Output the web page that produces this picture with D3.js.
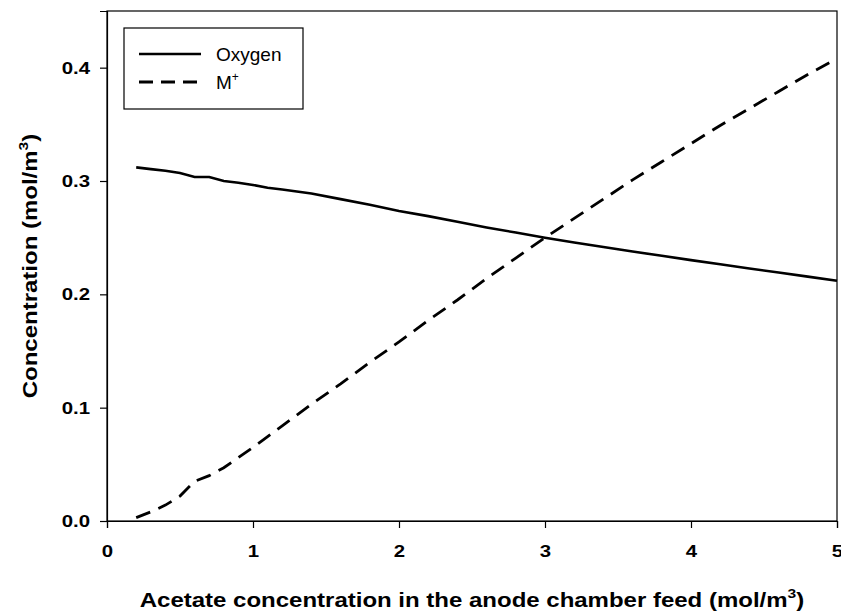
<!DOCTYPE html>
<html><head><meta charset="utf-8">
<script src="https://cdn.jsdelivr.net/npm/d3@7"></script>
<style>body{margin:0;background:#fff}svg{display:block}text{font-family:Arial,"Liberation Sans",sans-serif}</style>
</head><body><svg id="c" width="841" height="614"></svg>
<script>
const xValues = [0.2,0.3,0.4,0.5,0.6,0.7,0.8,0.9,1.0,1.1,1.2,1.4,1.6,1.8,2.0,2.2,2.4,2.6,2.8,3.0,3.2,3.4,3.6,3.8,4.0,4.2,4.4,4.6,4.8,5.0];
const oxygen = [0.312,0.3105,0.309,0.307,0.3035,0.3035,0.300,0.2985,0.2965,0.294,0.2925,0.289,0.284,0.279,0.2735,0.269,0.264,0.259,0.2545,0.250,0.2458,0.2418,0.2378,0.234,0.2302,0.2265,0.2228,0.2192,0.2156,0.212];
const mPlus = [0.003,0.008,0.014,0.022,0.035,0.040,0.047,0.056,0.065,0.0745,0.084,0.103,0.121,0.140,0.158,0.177,0.195,0.214,0.232,0.250,0.267,0.284,0.301,0.317,0.333,0.349,0.364,0.379,0.394,0.408];
const xTicks = [0,1,2,3,4,5];
const yTicks = [0.0,0.1,0.2,0.3,0.4];
const seriesNames = ["Oxygen","M"];

const SX = 1.2; // horizontal stretch of bold text in the reference
const svg = d3.select("#c");
const L=107, T=11, R=837, B=521;
const x = d3.scaleLinear().domain([0,5]).range([L,R]);
const y = d3.scaleLinear().domain([0,0.45]).range([B,T]);

svg.append("rect").attr("x",L).attr("y",T).attr("width",R-L).attr("height",B-T)
  .attr("fill","none").attr("stroke","#000").attr("stroke-width",1.2);

const xa = svg.append("g").attr("transform",`translate(0,${B})`)
  .call(d3.axisBottom(x).tickValues(xTicks).tickFormat(d3.format("d")).tickSizeOuter(0).tickSize(7).tickPadding(17));
const ya = svg.append("g").attr("transform",`translate(${L},0)`)
  .call(d3.axisLeft(y).tickValues(yTicks).tickFormat(d3.format(".1f")).tickSizeOuter(0).tickSize(7).tickPadding(10));
[xa,ya].forEach(a=>{
  a.select(".domain").attr("stroke","#000").attr("stroke-width",1.2);
  a.selectAll(".tick line").attr("stroke","#000").attr("stroke-width",1.2);
  a.selectAll(".tick text").attr("font-size",17).attr("font-weight","bold").attr("fill","#000")
   .attr("font-family","Arial, 'Liberation Sans', sans-serif");
});
xa.selectAll(".tick text").attr("transform",`scale(${SX},1)`);
ya.selectAll(".tick text").attr("x",-17/SX).attr("transform",`scale(${SX},1)`);

const line = d3.line().x(d=>x(d[0])).y(d=>y(d[1]));
svg.append("path").datum(xValues.map((v,i)=>[v,oxygen[i]])).attr("d",line)
  .attr("fill","none").attr("stroke","#000").attr("stroke-width",2.6);
svg.append("path").datum(xValues.map((v,i)=>[v,mPlus[i]])).attr("d",line)
  .attr("fill","none").attr("stroke","#000").attr("stroke-width",2.8).attr("stroke-dasharray","15,9");

// legend
const lg = svg.append("g");
lg.append("rect").attr("x",124).attr("y",28).attr("width",179).attr("height",81)
  .attr("fill","#fff").attr("stroke","#000").attr("stroke-width",1.2);
lg.append("line").attr("x1",139).attr("x2",201).attr("y1",54).attr("y2",54).attr("stroke","#000").attr("stroke-width",2.6);
lg.append("line").attr("x1",139).attr("x2",201).attr("y1",82).attr("y2",82).attr("stroke","#000").attr("stroke-width",2.8).attr("stroke-dasharray","14,8");
lg.append("text").attr("x",216).attr("y",61).attr("font-size",19).text(seriesNames[0]);
const mt = lg.append("text").attr("x",216).attr("y",89).attr("font-size",19);
mt.append("tspan").text(seriesNames[1]);
mt.append("tspan").attr("font-size",12).attr("dy",-8).text("+");

// axis titles
const xt = svg.append("text").attr("transform",`translate(${(L+R)/2},607) scale(${SX},1)`).attr("text-anchor","middle")
  .attr("font-size",20).attr("font-weight","bold");
xt.append("tspan").text("Acetate concentration in the anode chamber feed (mol/m");
xt.append("tspan").attr("font-size",13).attr("dy",-9).text("3");
xt.append("tspan").attr("dy",9).text(")");

const yt = svg.append("text").attr("transform",`translate(37,${(T+B)/2}) rotate(-90) scale(${SX},1)`).attr("text-anchor","middle")
  .attr("font-size",20).attr("font-weight","bold");
yt.append("tspan").text("Concentration (mol/m");
yt.append("tspan").attr("font-size",13).attr("dy",-9).text("3");
yt.append("tspan").attr("dy",9).text(")");
</script></body></html>
